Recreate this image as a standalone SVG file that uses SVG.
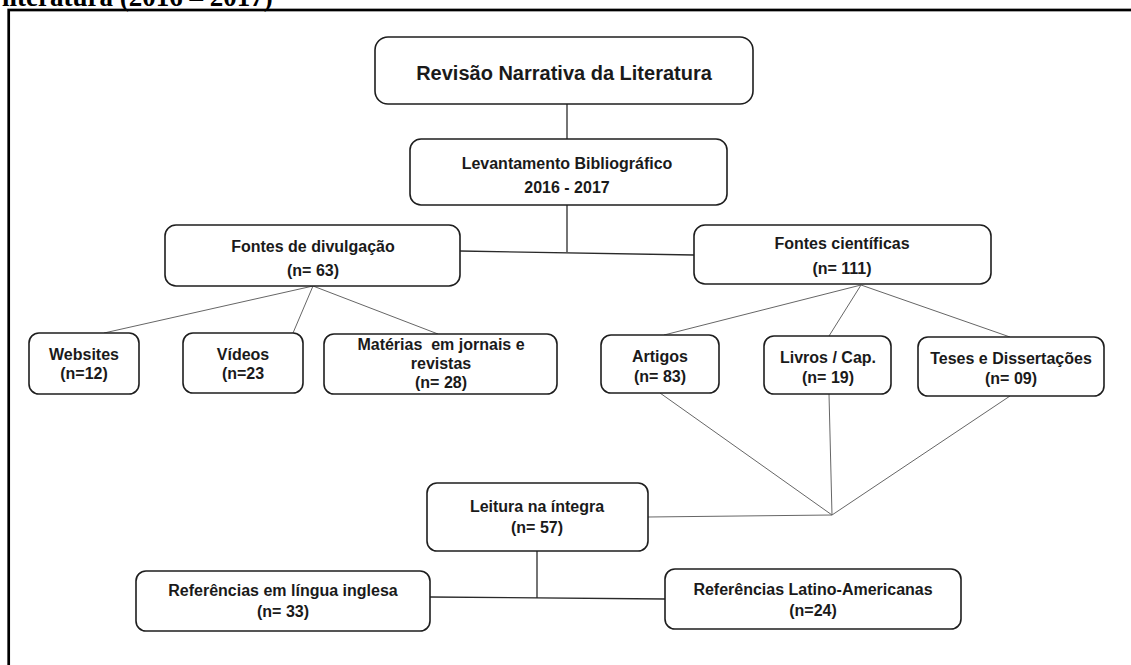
<svg xmlns="http://www.w3.org/2000/svg" width="1131" height="665" viewBox="0 0 1131 665">
  <style>
    .box { fill: #ffffff; stroke: #1e1e1e; stroke-width: 1.6; }
    .lbl { font-family: "Liberation Sans", Arial, sans-serif; font-weight: bold; font-size: 16px; fill: #1a1a1a; text-anchor: middle; }
    .big { font-size: 20px; }
    .edge { fill: none; stroke: #2a2a2a; stroke-width: 1.3; }
    .thin { fill: none; stroke: #666666; stroke-width: 1; }
    .caption { font-family: "Liberation Serif", "Times New Roman", serif; font-weight: bold; font-size: 27px; fill: #000; }
  </style>

  <!-- caption line and outer frame -->
  <text class="caption" x="2" y="6">literatura (2016 – 2017)</text>
  <rect x="8.7" y="10" width="1200" height="700" fill="none" stroke="#000" stroke-width="2.7"/>

  <g id="connectors">
    <line class="edge" x1="567" y1="104" x2="567" y2="139"/>
    <polyline class="edge" points="567,205 567,252"/>
    <line class="edge" x1="460" y1="251" x2="694" y2="255"/>
    <line class="thin" x1="313" y1="286" x2="104" y2="333"/>
    <line class="thin" x1="313" y1="286" x2="293" y2="333"/>
    <line class="thin" x1="313" y1="286" x2="438" y2="334"/>
    <line class="thin" x1="861" y1="285" x2="664" y2="335"/>
    <line class="thin" x1="861" y1="285" x2="829" y2="336"/>
    <line class="thin" x1="861" y1="285" x2="1010" y2="337"/>
    <line class="thin" x1="660" y1="393" x2="832" y2="515"/>
    <line class="thin" x1="829" y1="394" x2="832" y2="515"/>
    <line class="thin" x1="1010" y1="396" x2="832" y2="515"/>
    <line class="thin" x1="648" y1="517" x2="832" y2="515"/>
    <line class="edge" x1="537" y1="551" x2="537" y2="598"/>
    <line class="edge" x1="430" y1="597" x2="665" y2="599"/>
  </g>

  <g id="revisao">
    <rect class="box" x="375" y="37" width="378" height="67" rx="13"/>
    <text class="lbl big" x="564" y="80">Revisão Narrativa da Literatura</text>
  </g>

  <g id="levantamento">
    <rect class="box" x="410" y="139" width="317" height="66" rx="11"/>
    <text class="lbl" x="567" y="169">Levantamento Bibliográfico</text>
    <text class="lbl" x="567" y="193">2016 - 2017</text>
  </g>

  <g id="fontes-divulgacao">
    <rect class="box" x="165" y="225" width="295" height="61" rx="11"/>
    <text class="lbl" x="313" y="252">Fontes de divulgação</text>
    <text class="lbl" x="313" y="276">(n= 63)</text>
  </g>

  <g id="fontes-cientificas">
    <rect class="box" x="694" y="225" width="297" height="59" rx="11"/>
    <text class="lbl" x="842" y="249">Fontes científicas</text>
    <text class="lbl" x="842" y="274">(n= 111)</text>
  </g>

  <g id="websites">
    <rect class="box" x="29" y="333" width="110" height="61" rx="10"/>
    <text class="lbl" x="84" y="360">Websites</text>
    <text class="lbl" x="84" y="379">(n=12)</text>
  </g>

  <g id="videos">
    <rect class="box" x="183" y="333" width="120" height="60" rx="10"/>
    <text class="lbl" x="243" y="360">Vídeos</text>
    <text class="lbl" x="243" y="379">(n=23</text>
  </g>

  <g id="materias">
    <rect class="box" x="324" y="334" width="233" height="60" rx="10"/>
    <text class="lbl" x="441" y="350" xml:space="preserve">Matérias  em jornais e</text>
    <text class="lbl" x="441" y="369">revistas</text>
    <text class="lbl" x="441" y="388">(n= 28)</text>
  </g>

  <g id="artigos">
    <rect class="box" x="601" y="335" width="118" height="58" rx="10"/>
    <text class="lbl" x="660" y="362">Artigos</text>
    <text class="lbl" x="660" y="382">(n= 83)</text>
  </g>

  <g id="livros">
    <rect class="box" x="764" y="336" width="127" height="58" rx="10"/>
    <text class="lbl" x="828" y="363">Livros / Cap.</text>
    <text class="lbl" x="828" y="383">(n= 19)</text>
  </g>

  <g id="teses">
    <rect class="box" x="918" y="337" width="186" height="59" rx="10"/>
    <text class="lbl" x="1011" y="364">Teses e Dissertações</text>
    <text class="lbl" x="1011" y="384">(n= 09)</text>
  </g>

  <g id="leitura">
    <rect class="box" x="427" y="483" width="221" height="68" rx="10"/>
    <text class="lbl" x="537" y="512">Leitura na íntegra</text>
    <text class="lbl" x="537" y="533">(n= 57)</text>
  </g>

  <g id="ref-inglesa">
    <rect class="box" x="136" y="571" width="294" height="60" rx="10"/>
    <text class="lbl" x="283" y="596">Referências em língua inglesa</text>
    <text class="lbl" x="283" y="617">(n= 33)</text>
  </g>

  <g id="ref-latino">
    <rect class="box" x="665" y="569" width="296" height="60" rx="10"/>
    <text class="lbl" x="813" y="595">Referências Latino-Americanas</text>
    <text class="lbl" x="813" y="616">(n=24)</text>
  </g>
</svg>
